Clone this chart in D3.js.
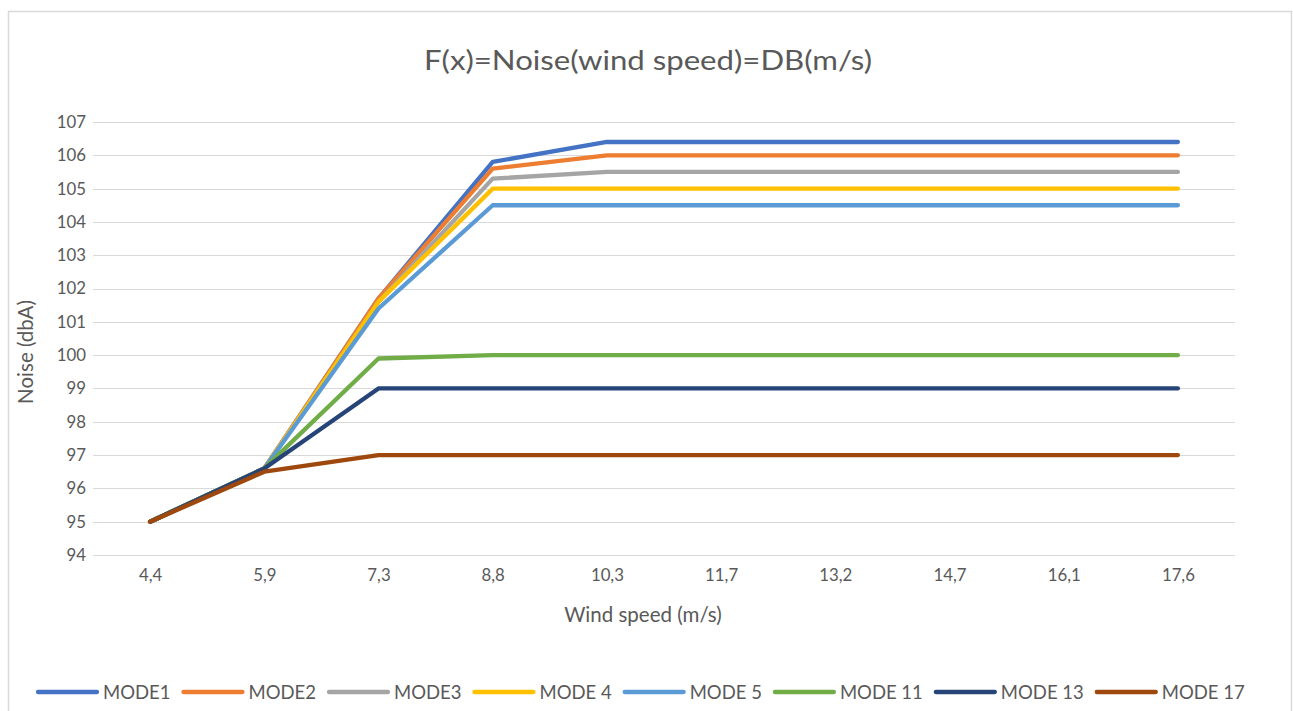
<!DOCTYPE html>
<html>
<head>
<meta charset="utf-8">
<script src="https://cdn.jsdelivr.net/npm/d3@7/dist/d3.min.js"></script>
<style>
  html, body { margin: 0; padding: 0; background: #fff; }
  svg { display: block; font-family: Lato, "Open Sans", sans-serif; }
</style>
</head>
<body>
<svg id="chart" width="1293" height="711"></svg>
<script>
// Wind speed categories (m/s)
const windSpeeds = ["4,4", "5,9", "7,3", "8,8", "10,3", "11,7", "13,2", "14,7", "16,1", "17,6"];

// Noise level (dBA) per operating mode
const mode1  = [95, 96.6, 101.7, 105.8, 106.4, 106.4, 106.4, 106.4, 106.4, 106.4];
const mode2  = [95, 96.6, 101.7, 105.6, 106.0, 106.0, 106.0, 106.0, 106.0, 106.0];
const mode3  = [95, 96.6, 101.6, 105.3, 105.5, 105.5, 105.5, 105.5, 105.5, 105.5];
const mode4  = [95, 96.6, 101.6, 105.0, 105.0, 105.0, 105.0, 105.0, 105.0, 105.0];
const mode5  = [95, 96.6, 101.4, 104.5, 104.5, 104.5, 104.5, 104.5, 104.5, 104.5];
const mode11 = [95, 96.6, 99.9, 100.0, 100.0, 100.0, 100.0, 100.0, 100.0, 100.0];
const mode13 = [95, 96.6, 99.0, 99.0, 99.0, 99.0, 99.0, 99.0, 99.0, 99.0];
const mode17 = [95, 96.5, 97.0, 97.0, 97.0, 97.0, 97.0, 97.0, 97.0, 97.0];

const seriesNames = ["MODE1", "MODE2", "MODE3", "MODE 4", "MODE 5", "MODE 11", "MODE 13", "MODE 17"];
const seriesValues = [mode1, mode2, mode3, mode4, mode5, mode11, mode13, mode17];
const seriesColors = ["#4472C4", "#ED7D31", "#A5A5A5", "#FFC000", "#5B9BD5", "#70AD47", "#264478", "#9E480E"];

const yTicks = [94, 95, 96, 97, 98, 99, 100, 101, 102, 103, 104, 105, 106, 107];

const svg = d3.select("#chart");
const textColor = "#595959";
const gridColor = "#D9D9D9";

// Chart frame
svg.append("rect")
  .attr("x", 8.5).attr("y", 11.5)
  .attr("width", 1283).attr("height", 720)
  .attr("fill", "#fff").attr("stroke", gridColor).attr("stroke-width", 1.5);

const plot = { left: 93, right: 1235, top: 122, bottom: 555 };

const x = d3.scalePoint()
  .domain(windSpeeds)
  .range([plot.left, plot.right])
  .padding(0.5);

const y = d3.scaleLinear()
  .domain([94, 107])
  .range([plot.bottom, plot.top]);

// Horizontal gridlines
svg.append("g")
  .selectAll("line")
  .data(yTicks)
  .join("line")
  .attr("x1", plot.left).attr("x2", plot.right)
  .attr("y1", d => Math.round(y(d)) + 0.5).attr("y2", d => Math.round(y(d)) + 0.5)
  .attr("stroke", gridColor).attr("stroke-width", 1.2);

// Y axis labels
const yAxis = d3.axisLeft(y).tickValues(yTicks).tickSize(0).tickPadding(0);
const yg = svg.append("g")
  .attr("transform", `translate(${plot.left - 7},0)`)
  .call(yAxis);
yg.select(".domain").remove();
yg.selectAll("text")
  .attr("fill", textColor)
  .style("font-size", "16.8px")
  .style("font-family", "Lato, 'Open Sans', sans-serif");

// X axis labels
const xAxis = d3.axisBottom(x).tickSize(0).tickPadding(0);
const xg = svg.append("g")
  .attr("transform", `translate(0,${plot.bottom + 14})`)
  .call(xAxis);
xg.select(".domain").remove();
xg.selectAll("text")
  .attr("fill", textColor)
  .style("font-size", "16.8px")
  .style("font-family", "Lato, 'Open Sans', sans-serif");

// Series lines (later series drawn on top)
const line = d3.line()
  .x((d, i) => x(windSpeeds[i]))
  .y(d => y(d));

svg.append("g")
  .selectAll("path")
  .data(seriesValues)
  .join("path")
  .attr("d", d => line(d))
  .attr("fill", "none")
  .attr("stroke", (d, i) => seriesColors[i])
  .attr("stroke-width", 4.3)
  .attr("stroke-linejoin", "round")
  .attr("stroke-linecap", "round");

// Title
svg.append("text")
  .attr("x", 648).attr("y", 70)
  .attr("text-anchor", "middle")
  .attr("fill", textColor)
  .attr("textLength", 448)
  .attr("lengthAdjust", "spacingAndGlyphs")
  .style("font-size", "27px")
  .text("F(x)=Noise(wind speed)=DB(m/s)");

// Axis titles
svg.append("text")
  .attr("transform", "translate(33,352) rotate(-90)")
  .attr("text-anchor", "middle")
  .attr("fill", textColor)
  .style("font-size", "20.5px")
  .text("Noise (dbA)");

svg.append("text")
  .attr("x", 643).attr("y", 622)
  .attr("text-anchor", "middle")
  .attr("fill", textColor)
  .style("font-size", "20.5px")
  .text("Wind speed (m/s)");

// Legend
const legend = svg.append("g").attr("transform", "translate(38,692)");
let lx = 0;
seriesNames.forEach((name, i) => {
  const g = legend.append("g").attr("transform", `translate(${lx},0)`);
  g.append("line")
    .attr("x1", 0).attr("x2", 59)
    .attr("y1", 0).attr("y2", 0)
    .attr("stroke", seriesColors[i])
    .attr("stroke-width", 4.3)
    .attr("stroke-linecap", "round");
  const t = g.append("text")
    .attr("x", 65).attr("y", 6.5)
    .attr("fill", textColor)
    .style("font-size", "18.5px")
    .text(name);
  lx += 65 + t.node().getComputedTextLength() + 13;
});
</script>
</body>
</html>
